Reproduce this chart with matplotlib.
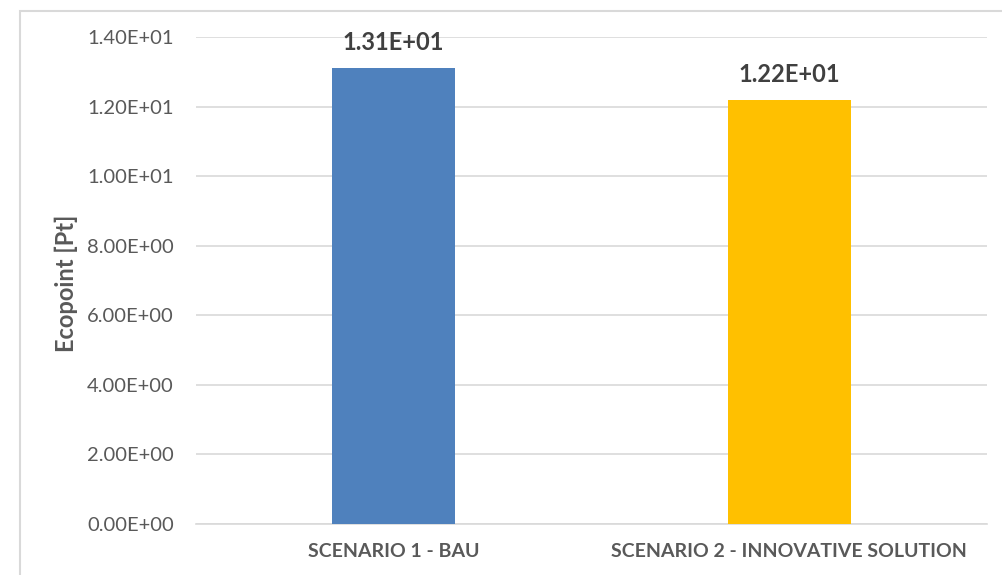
import matplotlib
matplotlib.use("Agg")
import matplotlib.pyplot as plt
from matplotlib.patches import Rectangle

# data
scenarios = ["SCENARIO 1 - BAU", "SCENARIO 2 - INNOVATIVE SOLUTION"]
ecopoints = [13.1, 12.2]
bar_colors = ["#4f81bd", "#ffc000"]
y_ticks = [0, 2, 4, 6, 8, 10, 12, 14]

plt.rcParams['font.family'] = ['Lato', 'DejaVu Sans']

fig = plt.figure(figsize=(10.03, 5.75), dpi=100)
ax = fig.add_axes([0.1954, 0.0887, 0.7886, 0.847])

# light grey chart border like excel
fig.patches.append(Rectangle((20/1003, -0.1), 1.1, 1 - 11/575 + 0.1, transform=fig.transFigure,
                             fill=False, edgecolor="#d9d9d9", linewidth=1.5))

x = range(len(scenarios))
bars = ax.bar(x, ecopoints, width=0.31, color=bar_colors, zorder=3)

for b, v in zip(bars, ecopoints):
    ax.text(b.get_x() + b.get_width()/2, v + 0.4, "%.2E" % v, ha='center', va='bottom',
            fontsize=17, fontweight='bold', color='#404040')

ax.set_xlim(-0.5, 1.5)
ax.set_ylim(0, 14)
ax.set_yticks(y_ticks)
ax.set_yticklabels(["%.2E" % t for t in y_ticks])
ax.set_xticks(list(x))
ax.set_xticklabels(scenarios, fontweight='bold')
ax.tick_params(axis='y', length=0, pad=16, labelsize=14.5, labelcolor='#595959')
ax.tick_params(axis='x', length=0, pad=14, labelsize=14, labelcolor='#595959')
ax.grid(axis='y', color='#d9d9d9', linewidth=1.2, zorder=0)
for s in ['top', 'right', 'left']:
    ax.spines[s].set_visible(False)
ax.spines['bottom'].set_color('#d9d9d9')
ax.spines['bottom'].set_linewidth(1.2)

ax.set_ylabel("Ecopoint [Pt]", fontsize=17, fontweight='bold', color='#595959')
ax.yaxis.set_label_coords((78 - 196) / 791, 0.495)

fig.savefig("out.png", dpi=100)
